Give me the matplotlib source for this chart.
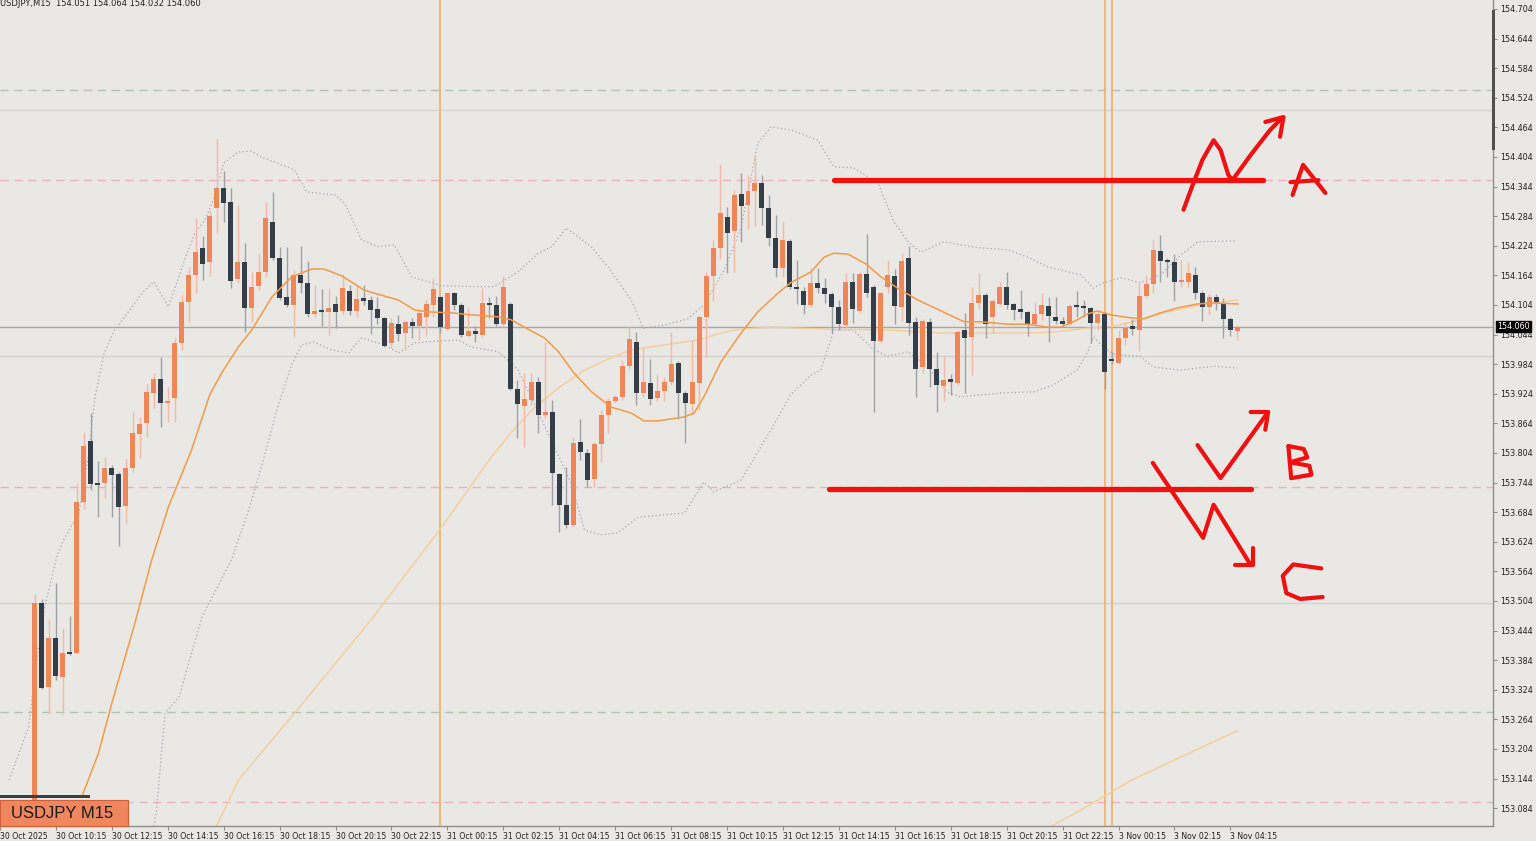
import matplotlib
matplotlib.use("Agg")
import matplotlib.pyplot as plt
from matplotlib.patches import Rectangle

# USDJPY M15 candles (index 0 = first visible bar)
opens = [153.095, 153.500, 153.330, 153.429, 153.350, 153.401, 153.399, 153.705, 153.828, 153.743,
         153.743, 153.774, 153.762, 153.697, 153.774, 153.843, 153.865, 153.926, 153.954, 153.905,
         153.915, 154.027, 154.110, 154.165, 154.220, 154.191, 154.301, 154.341, 154.313, 154.157,
         154.191, 154.098, 154.142, 154.171, 154.272, 154.199, 154.120, 154.104, 154.165, 154.149,
         154.086, 154.093, 154.090, 154.106, 154.092, 154.132, 154.092, 154.118, 154.114, 154.096,
         154.078, 154.027, 154.066, 154.047, 154.070, 154.061, 154.080, 154.104, 154.120, 154.055,
         154.128, 154.104, 154.041, 154.051, 154.043, 154.108, 154.104, 154.065, 154.106, 153.934,
         153.899, 153.912, 153.948, 153.881, 153.887, 153.761, 153.699, 153.658, 153.826, 153.804,
         153.751, 153.822, 153.881, 153.909, 153.917, 153.980, 154.029, 153.926, 153.946, 153.915,
         153.930, 153.948, 153.986, 153.926, 153.903, 153.946, 154.080, 154.163, 154.220, 154.282,
         154.254, 154.329, 154.307, 154.335, 154.351, 154.301, 154.240, 154.179, 154.234, 154.141,
         154.132, 154.104, 154.149, 154.139, 154.126, 154.100, 154.063, 154.151, 154.092, 154.167,
         154.140, 154.031, 154.140, 154.163, 154.100, 154.199, 154.069, 153.978, 154.069, 153.974,
         153.940, 153.954, 153.946, 154.053, 154.039, 154.108, 154.124, 154.080, 154.106, 154.141,
         154.106, 154.096, 154.090, 154.065, 154.086, 154.102, 154.080, 154.072, 154.065, 154.103,
         154.101, 154.098, 154.067, 154.086, 153.995, 153.986, 154.037, 154.061, 154.053, 154.122,
         154.147, 154.214, 154.195, 154.191, 154.151, 154.151, 154.165, 154.128, 154.100, 154.120,
         154.108, 154.076, 154.051]
highs = [153.518, 153.508, 153.466, 153.540, 153.449, 153.474, 153.743, 153.847, 153.885, 153.788,
         153.796, 153.780, 153.766, 153.792, 153.887, 153.877, 153.944, 153.966, 153.999, 153.938,
         154.037, 154.124, 154.181, 154.280, 154.244, 154.297, 154.440, 154.376, 154.341, 154.307,
         154.230, 154.171, 154.208, 154.313, 154.333, 154.222, 154.222, 154.175, 154.224, 154.193,
         154.145, 154.136, 154.138, 154.122, 154.167, 154.145, 154.145, 154.145, 154.122, 154.120,
         154.080, 154.078, 154.084, 154.074, 154.078, 154.094, 154.114, 154.159, 154.122, 154.130,
         154.130, 154.108, 154.098, 154.061, 154.138, 154.120, 154.122, 154.163, 154.110, 153.952,
         153.966, 153.966, 153.958, 154.029, 153.911, 153.763, 153.776, 153.836, 153.873, 153.812,
         153.826, 153.891, 153.915, 153.921, 153.992, 154.061, 154.049, 154.019, 153.995, 153.964,
         153.958, 154.049, 153.990, 153.930, 154.033, 154.084, 154.171, 154.236, 154.390, 154.303,
         154.337, 154.372, 154.368, 154.406, 154.368, 154.327, 154.286, 154.272, 154.238, 154.195,
         154.140, 154.179, 154.179, 154.159, 154.130, 154.114, 154.169, 154.169, 154.171, 154.248,
         154.145, 154.130, 154.195, 154.177, 154.209, 154.224, 154.080, 154.076, 154.078, 154.009,
         154.003, 153.964, 154.053, 154.088, 154.141, 154.169, 154.128, 154.116, 154.151, 154.171,
         154.108, 154.134, 154.092, 154.110, 154.128, 154.120, 154.120, 154.080, 154.106, 154.133,
         154.114, 154.100, 154.092, 154.088, 154.009, 154.053, 154.070, 154.076, 154.149, 154.165,
         154.238, 154.246, 154.199, 154.207, 154.195, 154.191, 154.181, 154.132, 154.126, 154.126,
         154.118, 154.080, 154.064]
lows = [153.060, 153.325, 153.275, 153.344, 153.275, 153.394, 153.397, 153.690, 153.729, 153.674,
        153.713, 153.674, 153.615, 153.662, 153.766, 153.794, 153.836, 153.895, 153.857, 153.867,
        153.867, 154.013, 154.070, 154.128, 154.155, 154.163, 154.250, 154.272, 154.139, 154.149,
        154.049, 154.070, 154.135, 154.161, 154.195, 154.114, 154.100, 154.039, 154.128, 154.080,
        154.080, 154.061, 154.043, 154.057, 154.084, 154.084, 154.080, 154.104, 154.045, 154.065,
        154.019, 154.017, 154.031, 154.013, 154.037, 154.033, 154.043, 154.080, 154.047, 154.053,
        154.094, 154.039, 154.039, 154.029, 154.039, 154.078, 154.061, 154.059, 153.932, 153.834,
        153.816, 153.901, 153.845, 153.875, 153.699, 153.644, 153.652, 153.654, 153.790, 153.735,
        153.735, 153.786, 153.845, 153.905, 153.911, 153.974, 153.901, 153.917, 153.901, 153.909,
        153.909, 153.942, 153.873, 153.824, 153.881, 153.891, 153.999, 154.112, 154.197, 154.169,
        154.171, 154.232, 154.258, 154.264, 154.266, 154.224, 154.161, 154.161, 154.136, 154.106,
        154.086, 154.100, 154.128, 154.108, 154.047, 154.053, 154.057, 154.067, 154.088, 154.120,
        153.887, 154.027, 154.128, 154.065, 154.072, 154.043, 153.917, 153.966, 153.938, 153.887,
        153.909, 153.921, 153.942, 153.926, 153.962, 154.096, 154.037, 154.047, 154.102, 154.096,
        154.074, 154.076, 154.041, 154.061, 154.074, 154.029, 154.065, 154.059, 154.063, 154.080,
        154.080, 154.027, 154.053, 153.934, 153.984, 153.984, 154.023, 154.043, 154.011, 154.118,
        154.128, 154.151, 154.161, 154.112, 154.141, 154.141, 154.116, 154.072, 154.084, 154.094,
        154.037, 154.041, 154.032]
closes = [153.500, 153.328, 153.429, 153.352, 153.399, 153.397, 153.705, 153.818, 153.741, 153.739,
          153.774, 153.760, 153.695, 153.774, 153.845, 153.863, 153.928, 153.954, 153.905, 153.910,
          154.027, 154.110, 154.165, 154.211, 154.187, 154.284, 154.341, 154.311, 154.153, 154.191,
          154.098, 154.140, 154.171, 154.280, 154.199, 154.118, 154.104, 154.165, 154.149, 154.086,
          154.092, 154.091, 154.098, 154.090, 154.138, 154.092, 154.116, 154.112, 154.094, 154.078,
          154.021, 154.068, 154.045, 154.070, 154.061, 154.088, 154.106, 154.136, 154.059, 154.128,
          154.104, 154.043, 154.051, 154.045, 154.108, 154.104, 154.065, 154.140, 153.934, 153.903,
          153.914, 153.948, 153.881, 153.887, 153.763, 153.699, 153.658, 153.824, 153.806, 153.749,
          153.822, 153.881, 153.909, 153.917, 153.980, 154.035, 153.926, 153.948, 153.913, 153.930,
          153.948, 153.984, 153.926, 153.905, 153.948, 154.080, 154.163, 154.220, 154.291, 154.250,
          154.327, 154.305, 154.335, 154.351, 154.301, 154.240, 154.179, 154.236, 154.141, 154.137,
          154.104, 154.149, 154.139, 154.126, 154.100, 154.065, 154.151, 154.096, 154.167, 154.128,
          154.031, 154.128, 154.165, 154.102, 154.193, 154.067, 153.974, 154.071, 153.974, 153.942,
          153.952, 153.948, 154.049, 154.037, 154.108, 154.124, 154.065, 154.112, 154.141, 154.104,
          154.094, 154.090, 154.063, 154.086, 154.104, 154.082, 154.072, 154.065, 154.102, 154.101,
          154.099, 154.067, 154.086, 153.968, 153.990, 154.037, 154.057, 154.055, 154.122, 154.147,
          154.216, 154.193, 154.191, 154.151, 154.155, 154.169, 154.128, 154.100, 154.120, 154.110,
          154.076, 154.053, 154.060]

# indicator readings (bar index, price)
ma_fast_idx = [6.7, 9.1, 11, 14.3, 16.7, 19.1, 22.4, 25, 26.7, 29.1, 31, 33.9, 36.7, 39.6, 41.3, 43.9,
               47.1, 50, 52, 54.3, 56.3, 59.6, 62.4, 66.3, 68.1, 70, 72.9, 74.9, 77.1, 79.6, 82.4,
               85.3, 87.1, 89.1, 92.9, 94.3, 95.7, 98.1, 101, 103.4, 106.3, 108.1, 111, 112.9, 114.3,
               116.3, 118.9, 121, 123.4, 126.3, 129.6, 132.9, 135.3, 139.1, 142, 144.9, 146.7, 148.6,
               150.6, 152, 153.9, 156.7, 158.6, 161, 163.4, 166.3, 168.6, 172.1]
ma_fast_val = [153.107, 153.196, 153.297, 153.459, 153.587, 153.695, 153.810, 153.922, 153.966, 154.019,
               154.053, 154.120, 154.161, 154.177, 154.177, 154.163, 154.134, 154.122, 154.114, 154.094,
               154.090, 154.088, 154.084, 154.080, 154.074, 154.059, 154.037, 154.009, 153.966, 153.928,
               153.897, 153.885, 153.869, 153.869, 153.877, 153.885, 153.918, 153.988, 154.047, 154.090,
               154.128, 154.149, 154.171, 154.201, 154.209, 154.207, 154.187, 154.161, 154.138, 154.114,
               154.092, 154.070, 154.070, 154.065, 154.065, 154.059, 154.059, 154.070, 154.086, 154.092,
               154.084, 154.078, 154.076, 154.088, 154.098, 154.106, 154.108, 154.106]

ma_slow_idx = [25.6, 29.1, 38.1, 48.1, 58.1, 65.3, 68.1, 71.4, 74.9, 78.6, 82.4, 85.3, 88.1, 91, 94.9,
               98.6, 101, 105.3, 112.9, 122.4, 129.6, 141, 145.7, 150.6, 154.3, 158.1, 162, 165.3,
               168.6, 172]
ma_slow_val = [153.036, 153.141, 153.293, 153.466, 153.652, 153.796, 153.845, 153.895, 153.936, 153.972,
               153.997, 154.013, 154.019, 154.025, 154.033, 154.049, 154.055, 154.059, 154.055, 154.053,
               154.047, 154.047, 154.049, 154.057, 154.061, 154.074, 154.090, 154.100, 154.108, 154.114]

ma_long_idx = [141.9, 149.6, 156.9, 172]
ma_long_val = [153.020, 153.080, 153.141, 153.241]

bb_up_idx = [-3.7, -0.9, 0, 1.4, 3.1, 4.1, 6.3, 7.7, 8.6, 9.9, 11.4, 13.9, 15.3, 17, 19.1, 21.4, 22.9,
             24.3, 25.7, 27, 29.1, 31, 32.4, 37.1, 38.9, 42.9, 44.3, 46.7, 49.1, 51.4, 53.9, 58.1,
             63.9, 65.7, 69.1, 72, 73.9, 76, 79.6, 82, 85.3, 87, 90, 93.4, 95.7, 98.6, 101, 103.4,
             105.3, 108.1, 112, 114.3, 117.1, 120.6, 122.9, 124.9, 126.7, 130, 134.9, 139.1, 142,
             144.9, 149.6, 151.4, 152.9, 155.3, 158.1, 161, 163.9, 166.3, 172]
bb_up_val = [153.141, 153.249, 153.358, 153.492, 153.593, 153.628, 153.682, 153.804, 153.918, 154.007,
             154.053, 154.100, 154.128, 154.151, 154.100, 154.195, 154.250, 154.276, 154.323, 154.392,
             154.414, 154.416, 154.404, 154.378, 154.333, 154.327, 154.311, 154.236, 154.222, 154.226,
             154.161, 154.143, 154.141, 154.141, 154.171, 154.209, 154.222, 154.260, 154.222, 154.181,
             154.114, 154.057, 154.063, 154.076, 154.104, 154.175, 154.260, 154.432, 154.465, 154.459,
             154.438, 154.384, 154.382, 154.351, 154.272, 154.232, 154.211, 154.232, 154.220, 154.216,
             154.201, 154.181, 154.165, 154.138, 154.149, 154.159, 154.149, 154.165, 154.205, 154.232,
             154.234]

bb_lo_idx = [16.7, 17.4, 18.6, 20.6, 22, 23.9, 28.1, 30.6, 32.4, 34.6, 36.7, 38.1, 39.9, 42.4, 44.9,
             46.7, 50, 52, 54.3, 57.7, 60.6, 62.4, 66.3, 68.1, 69.1, 71.4, 74.3, 76.7, 78.6, 81, 83.4,
             86.3, 92.9, 95.7, 97.1, 101, 105.3, 108.1, 111, 112.4, 114.3, 117.1, 120, 122, 124.9,
             127.7, 130.6, 132.4, 138.6, 142.9, 145.7, 149.1, 150.6, 151.4, 153.3, 154.6, 158.1, 160,
             163.9, 168.6, 172]
bb_lo_val = [153.017, 153.080, 153.277, 153.309, 153.378, 153.472, 153.587, 153.689, 153.776, 153.891,
             153.982, 154.023, 154.029, 154.013, 154.007, 154.037, 154.023, 154.007, 154.027, 154.031,
             154.033, 154.019, 154.009, 153.986, 153.972, 153.905, 153.816, 153.743, 153.648, 153.638,
             153.642, 153.674, 153.682, 153.745, 153.725, 153.749, 153.851, 153.922, 153.962, 153.972,
             154.053, 154.053, 154.013, 154.000, 154.009, 153.978, 153.926, 153.918, 153.926, 153.928,
             153.942, 153.972, 154.009, 154.039, 154.013, 154.003, 154.000, 153.978, 153.972, 153.980,
             153.976]

# horizontal levels
green_levels = [154.540, 153.279]
pink_levels = [154.357, 153.735, 153.097]
round_levels = [154.500, 154.000, 153.500]
bid_price = 154.060
day_lines = [58, 153, 154]

# time axis
tick_pos = [-5 + 8 * k for k in range(23)]
tick_labels = ["30 Oct 2025", "30 Oct 10:15", "30 Oct 12:15", "30 Oct 14:15", "30 Oct 16:15",
               "30 Oct 18:15", "30 Oct 20:15", "30 Oct 22:15", "31 Oct 00:15", "31 Oct 02:15",
               "31 Oct 04:15", "31 Oct 06:15", "31 Oct 08:15", "31 Oct 10:15", "31 Oct 12:15",
               "31 Oct 14:15", "31 Oct 16:15", "31 Oct 18:15", "31 Oct 20:15", "31 Oct 22:15",
               "3 Nov 00:15", "3 Nov 02:15", "3 Nov 04:15"]
price_ticks = [round(154.704 - 0.06 * k, 3) for k in range(28)]

# hand drawn markup (bar index, price)
line_a = ([114.3, 175.6], [154.357, 154.357])
line_b = ([113.6, 173.9], [153.731, 153.731])
strokes = [
    ([164.3, 165.6, 167.0, 168.6, 169.6, 170.7, 171.3, 173.9, 176.7, 178.4],
     [154.297, 154.347, 154.398, 154.438, 154.418, 154.368, 154.357, 154.408, 154.459, 154.483]),
    ([176.0, 178.6, 178.1], [154.475, 154.485, 154.445]),
    ([179.9, 181.4, 184.6], [154.327, 154.388, 154.331]),
    ([179.6, 183.6], [154.353, 154.357]),
    ([166.3, 169.6, 176.4], [153.820, 153.753, 153.887]),
    ([173.9, 176.4, 176.0], [153.887, 153.887, 153.851]),
    ([159.9, 167.1, 168.6, 173.9], [153.784, 153.632, 153.699, 153.577]),
    ([171.7, 174.3, 174.3], [153.577, 153.577, 153.611]),
    ([179.3, 179.7], [153.818, 153.753]),
    ([179.3, 181.5, 182.0, 179.5, 182.3, 182.6, 179.7],
     [153.818, 153.812, 153.795, 153.785, 153.778, 153.760, 153.753]),
    ([184.0, 180.0, 178.5, 179.0, 181.0, 184.2],
     [153.570, 153.578, 153.555, 153.520, 153.508, 153.512]),
]

BG = "#EAE8E4"
UP = "#EF8658"
DOWN = "#343E48"

fig = plt.figure(figsize=(15.36, 8.41), dpi=100, facecolor=BG)
ax = fig.add_axes([0, 15 / 841, 1493 / 1536, 826 / 841], facecolor=BG)

xmin, xmax = -33 / 7, (1493 - 33) / 7
ax.set_xlim(xmin, xmax)
ax.set_ylim(153.0478, 154.7222)

for lv in round_levels:
    ax.axhline(lv, color="#D6D3CE", lw=1, zorder=1)
for lv in green_levels:
    ax.axhline(lv, color="#A8C8B0", lw=1, ls=(0, (6, 4)), zorder=1)
for lv in pink_levels:
    ax.axhline(lv, color="#EBB0C4", lw=1, ls=(0, (6, 4)), zorder=1)
ax.axhline(bid_price, color="#A8A8A8", lw=1, zorder=1)
for d in day_lines:
    ax.axvline(d, color="#F2B060", lw=1.2, zorder=2)

ax.plot(bb_up_idx, bb_up_val, color="#A4A4B4", lw=0.9, ls=(0, (1, 2)), zorder=2)
ax.plot(bb_lo_idx, bb_lo_val, color="#A4A4B4", lw=0.9, ls=(0, (1, 2)), zorder=2)
ax.plot(ma_slow_idx, ma_slow_val, color="#F7CC98", lw=1.0, zorder=2)
ax.plot(ma_long_idx, ma_long_val, color="#F7CC98", lw=1.0, zorder=2)

# candles
bw = 5 / 7
for i, (o, h, l, c) in enumerate(zip(opens, highs, lows, closes)):
    up = c >= o
    ax.vlines(i, l, h, color="#F3B9A2" if up else "#9CA1A7", lw=1, zorder=3)
    lo, hi = min(o, c), max(o, c)
    if hi - lo < 0.003:
        ax.hlines((o + c) / 2, i - bw / 2, i + bw / 2, color=UP if up else DOWN, lw=1.5, zorder=4)
    else:
        ax.add_patch(Rectangle((i - bw / 2, lo), bw, hi - lo, facecolor=UP if up else DOWN,
                               edgecolor="none", zorder=4))

ax.plot(ma_fast_idx, ma_fast_val, color="#F39A45", lw=1.1, zorder=5)

# markup
ax.plot(*line_a, color="#F01010", lw=3.8, solid_capstyle="round", zorder=6)
ax.plot(*line_b, color="#F01010", lw=3.8, solid_capstyle="round", zorder=6)
for xs, ys in strokes:
    ax.plot(xs, ys, color="#F01010", lw=3.0, solid_capstyle="round", solid_joinstyle="round", zorder=6)

# axes styling
for s in ["top", "left"]:
    ax.spines[s].set_visible(False)
for s in ["right", "bottom"]:
    ax.spines[s].set_color("#8E8E8E")
    ax.spines[s].set_linewidth(1)
ax.yaxis.tick_right()
ax.set_yticks(price_ticks)
ax.set_yticklabels([f"{p:.3f}" for p in price_ticks])
ax.set_xticks(tick_pos)
ax.set_xticklabels(tick_labels, ha="left")
ax.tick_params(axis="y", direction="out", length=3, width=0.8, color="#8E8E8E",
               labelsize=5.8, pad=2, labelcolor="#202020")
ax.tick_params(axis="x", direction="out", length=3, width=0.8, color="#8E8E8E",
               labelsize=5.6, pad=1.5, labelcolor="#202020")
for lab in ax.get_xticklabels():
    lab.set_x(0)

# bid label
ax.annotate(f"{bid_price:.3f}", xy=(1.0, bid_price), xycoords=("axes fraction", "data"),
            xytext=(3, 0), textcoords="offset points", va="center", ha="left",
            fontsize=5.8, color="white",
            bbox=dict(boxstyle="square,pad=0.15", fc="black", ec="black"), annotation_clip=False)

# price scale marker
fig.add_artist(Rectangle((1492 / 1536, (841 - 150) / 841), 2.5 / 1536, 140 / 841,
                         transform=fig.transFigure, fc="#505050", ec="none"))

# header and symbol label
fig.text(0.0, 1.0 - 3 / 841, "USDJPY,M15  154.051 154.064 154.032 154.060", fontsize=6,
         va="center", ha="left", color="#202020")
fig.add_artist(Rectangle((0, (841 - 798) / 841), 90 / 1536, 3 / 841, transform=fig.transFigure,
                         fc="#37414A", ec="none", zorder=10))
fig.add_artist(Rectangle((0, (841 - 826) / 841), 128 / 1536, 26 / 841, transform=fig.transFigure,
                         fc="#F0865E", ec="#D0603A", lw=0.8, zorder=10))
fig.text(62 / 1536, (841 - 813) / 841, "USDJPY M15", fontsize=12, family="Liberation Sans",
         ha="center", va="center", color="#1A1A1A", zorder=11)

fig.savefig("out.png", dpi=100, facecolor=BG)
